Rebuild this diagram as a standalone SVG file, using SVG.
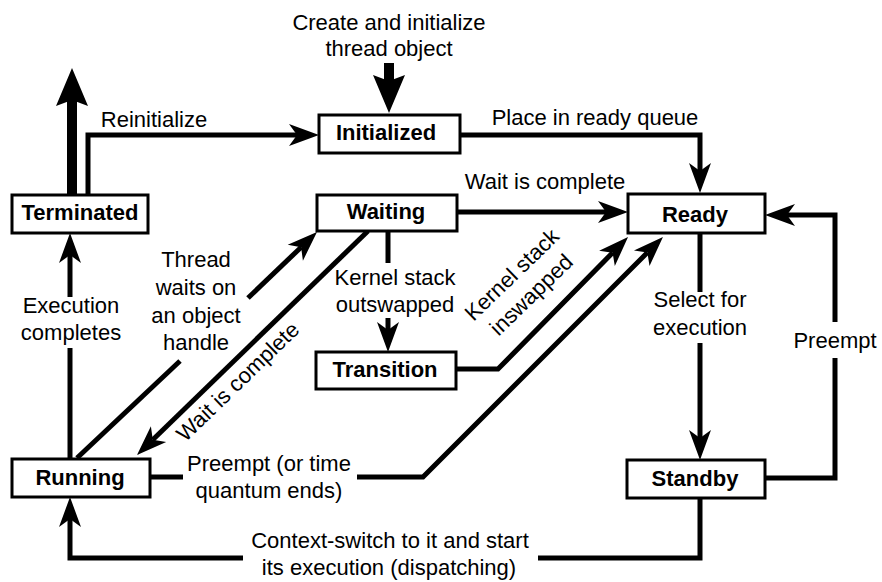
<svg xmlns="http://www.w3.org/2000/svg" width="882" height="582" viewBox="0 0 882 582">
<style>
.box{fill:#fff;stroke:#000;stroke-width:3}
.bt{font-family:"Liberation Sans",Arial,sans-serif;font-size:22px;font-weight:bold;text-anchor:middle;fill:#000}
.lt{font-family:"Liberation Sans",Arial,sans-serif;font-size:22px;text-anchor:middle;fill:#000}
.c{fill:none;stroke:#000;stroke-width:5;stroke-linejoin:miter;stroke-linecap:butt}
.h{fill:none;stroke:#000;stroke-width:10;stroke-linecap:butt}
</style>
<defs>
<marker id="a" markerUnits="userSpaceOnUse" orient="auto" refX="0" refY="0" markerWidth="40" markerHeight="30" viewBox="-10 -15 40 30" overflow="visible">
<path d="M22,0 L-8,-11 L0,0 L-8,11 Z" fill="#000"/>
</marker>
<marker id="ah" markerUnits="userSpaceOnUse" orient="auto" refX="0" refY="0" markerWidth="50" markerHeight="40" viewBox="-10 -20 50 40" overflow="visible">
<path d="M32,0 L-6,-16 L0,0 L-6,16 Z" fill="#000"/>
</marker>
</defs>
<rect width="882" height="582" fill="#fff"/>
<g id="connectors">
<path class="h" d="M389,63 V81" marker-end="url(#ah)"/>
<path class="h" d="M72,195 V100" marker-end="url(#ah)"/>
<path class="c" d="M88,195 V135 H297" marker-end="url(#a)"/>
<path class="c" d="M460,135 H700 V171" marker-end="url(#a)"/>
<path class="c" d="M457,212 H606" marker-end="url(#a)"/>
<path class="c" d="M765,478 H835 V358"/>
<path class="c" d="M835,322 V215 H787" marker-end="url(#a)"/>
<path class="c" d="M700,233 V292"/>
<path class="c" d="M700,343 V438" marker-end="url(#a)"/>
<path class="c" d="M700,498 V558 H538"/>
<path class="c" d="M243,558 H70 V519" marker-end="url(#a)"/>
<path class="c" d="M70,459 V348"/>
<path class="c" d="M70,297 V255" marker-end="url(#a)"/>
<path class="c" d="M77,458 L180,361"/>
<path class="c" d="M248,298 L301.1,247.2" marker-end="url(#a)"/>
<path class="c" d="M368,231 L152.8,439.7" marker-end="url(#a)"/>
<path class="c" d="M388,230 V263"/>
<path class="c" d="M388,318 V330" marker-end="url(#a)"/>
<path class="c" d="M456,369 H498 L612.6,252.7" marker-end="url(#a)"/>
<path class="c" d="M150,477 H183"/>
<path class="c" d="M357,477 H423 L647.4,252.6" marker-end="url(#a)"/>
</g>
<g id="labels">
<text class="lt" x="389" y="30">Create and initialize</text>
<text class="lt" x="389" y="56">thread object</text>
<text class="lt" x="154" y="127">Reinitialize</text>
<text class="lt" x="595" y="125">Place in ready queue</text>
<text class="lt" x="545" y="189">Wait is complete</text>
<text class="lt" x="395" y="285">Kernel stack</text>
<text class="lt" x="395" y="312">outswapped</text>
<text class="lt" x="700" y="307">Select for</text>
<text class="lt" x="700" y="335">execution</text>
<text class="lt" x="835" y="348">Preempt</text>
<text class="lt" x="71" y="313">Execution</text>
<text class="lt" x="71" y="340">completes</text>
<text class="lt" x="196" y="267">Thread</text>
<text class="lt" x="196" y="295">waits on</text>
<text class="lt" x="196" y="323">an object</text>
<text class="lt" x="196" y="350">handle</text>
<text class="lt" x="269" y="471">Preempt (or time</text>
<text class="lt" x="269" y="498">quantum ends)</text>
<text class="lt" x="390" y="548">Context-switch to it and start</text>
<text class="lt" x="389" y="575">its execution (dispatching)</text>
<text class="lt" transform="translate(243,387) rotate(-44)" x="0" y="0">Wait is complete</text>
<g transform="translate(517,280) rotate(-44)">
<text class="lt" x="0" y="0">Kernel stack</text>
<text class="lt" x="0" y="28">inswapped</text>
</g>
</g>
<g id="terminated"><rect class="box" x="12" y="195" width="136" height="38"/><text class="bt" x="80" y="220">Terminated</text></g>
<g id="initialized"><rect class="box" x="319" y="115" width="141" height="38"/><text class="bt" x="386" y="140">Initialized</text></g>
<g id="waiting"><rect class="box" x="317" y="195" width="140" height="36"/><text class="bt" x="386" y="219">Waiting</text></g>
<g id="ready"><rect class="box" x="628" y="194" width="137" height="39"/><text class="bt" x="695" y="222">Ready</text></g>
<g id="transition"><rect class="box" x="316" y="352" width="140" height="37"/><text class="bt" x="385" y="377">Transition</text></g>
<g id="running"><rect class="box" x="12" y="459" width="138" height="38"/><text class="bt" x="80" y="485">Running</text></g>
<g id="standby"><rect class="box" x="627" y="460" width="138" height="38"/><text class="bt" x="695" y="486">Standby</text></g>
</svg>
